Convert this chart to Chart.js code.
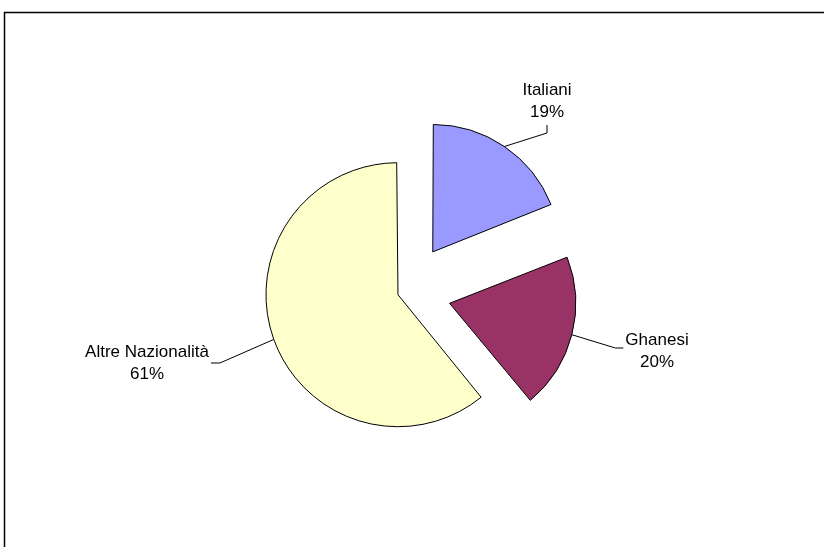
<!DOCTYPE html>
<html>
<head>
<meta charset="utf-8">
<script src="https://cdn.jsdelivr.net/npm/chart.js@4.4.1/dist/chart.umd.min.js"></script>
<style>
  html, body { margin: 0; padding: 0; background: #fff; }
  #wrap { position: relative; width: 824px; height: 547px; }
</style>
</head>
<body>
<div id="wrap"><canvas id="pieChart" width="824" height="547"></canvas></div>
<script>
// --- DATA ---
const categories = ['Italiani', 'Ghanesi', 'Altre Nazionalità'];
const percentages = [19, 20, 61];

// --- STYLE ---
const sliceColors = ['#9999FF', '#993366', '#FFFFCC'];
const sliceExplode = [194, 182, 32]; // chart.js moves a slice by offset/4
const labelFont = '17px "Liberation Sans", Arial, sans-serif';
const lineGap = 22;
// label text (first baseline) and which side the leader line joins
const labelSpots = [
  { x: 547, y: 95, side: 'bottom' },
  { x: 657, y: 345, side: 'left' },
  { x: 147, y: 357, side: 'right' }
];

// white background + the cut-off frame (left and top edges only)
const framePlugin = {
  id: 'frame',
  beforeDraw(chart) {
    const ctx = chart.ctx;
    ctx.save();
    ctx.fillStyle = '#fff';
    ctx.fillRect(0, 0, chart.width, chart.height);
    ctx.strokeStyle = '#000';
    ctx.lineWidth = 1.5;
    ctx.beginPath();
    ctx.moveTo(4.5, chart.height);
    ctx.lineTo(4.5, 12.5);
    ctx.lineTo(chart.width, 12.5);
    ctx.stroke();
    ctx.restore();
  }
};

// data labels with leader lines, anchored on the middle of each slice's arc
const pieLabels = {
  id: 'pieLabels',
  afterDatasetsDraw(chart) {
    const ctx = chart.ctx;
    const meta = chart.getDatasetMeta(0);
    ctx.save();
    ctx.font = labelFont;
    ctx.fillStyle = '#000';
    ctx.strokeStyle = '#000';
    ctx.lineWidth = 1;
    ctx.textAlign = 'center';
    ctx.textBaseline = 'alphabetic';
    meta.data.forEach((arc, i) => {
      const spot = labelSpots[i];
      const mid = (arc.startAngle + arc.endAngle) / 2;
      const shift = (arc.options.offset || 0) / 4;
      const fix = 1 - Math.sin(Math.min(Math.PI, arc.circumference));
      const r = arc.outerRadius + shift * fix + shift;
      const ax = arc.x + Math.cos(mid) * r;
      const ay = arc.y + Math.sin(mid) * r;

      const name = chart.data.labels[i];
      const pct = chart.data.datasets[0].data[i] + '%';
      ctx.fillText(name, spot.x, spot.y);
      ctx.fillText(pct, spot.x, spot.y + lineGap);
      const w = Math.max(ctx.measureText(name).width, ctx.measureText(pct).width);

      let px, py, ex, ey;
      if (spot.side === 'bottom') {
        px = spot.x; py = spot.y + lineGap + 8; ex = px; ey = py + 8;
      } else if (spot.side === 'left') {
        px = spot.x - w / 2 - 2; py = spot.y + 3; ex = px - 8; ey = py;
      } else {
        px = spot.x + w / 2 + 2; py = spot.y + 6; ex = px + 9; ey = py;
      }
      ctx.beginPath();
      ctx.moveTo(ax, ay);
      ctx.lineTo(ex, ey);
      ctx.lineTo(px, py);
      ctx.stroke();
    });
    ctx.restore();
  }
};

const pieCtx = document.getElementById('pieChart').getContext('2d');
const pieChart = new Chart(pieCtx, {
  type: 'pie',
  data: {
    labels: categories,
    datasets: [{
      data: percentages,
      backgroundColor: sliceColors,
      borderColor: '#000',
      borderWidth: 1,
      offset: sliceExplode
    }]
  },
  options: {
    responsive: false,
    animation: false,
    devicePixelRatio: 1,
    radius: 124,
    layout: { padding: { left: 0, right: 13, top: 37, bottom: 0 } },
    plugins: { legend: { display: false }, tooltip: { enabled: false } },
    events: []
  },
  plugins: [framePlugin, pieLabels]
});
</script>
</body>
</html>
